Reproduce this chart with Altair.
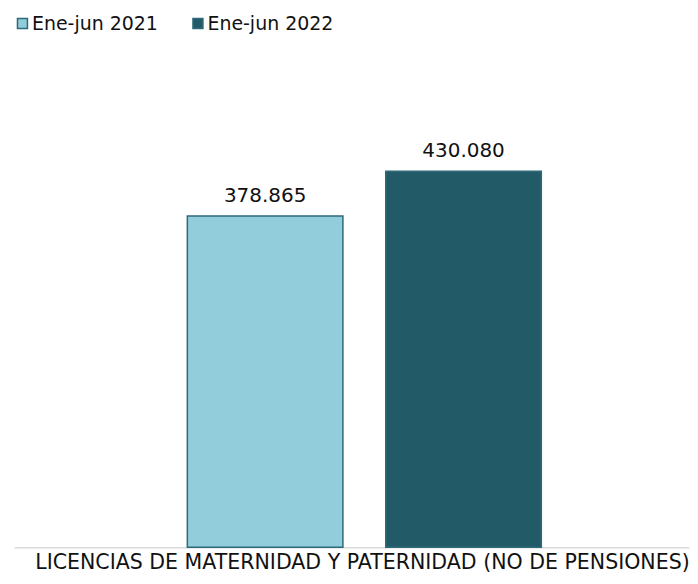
import altair as alt
import pandas as pd

series = ["Ene-jun 2021", "Ene-jun 2022"]
values = [378865, 430080]
category_title = "LICENCIAS DE MATERNIDAD Y PATERNIDAD (NO DE PENSIONES)"
colors = ["#92CDDC", "#225A68"]

df = pd.DataFrame({"series": series, "value": values})

FONT = "DejaVu Sans"

xscale = alt.Scale(domain=series, paddingInner=0.216, paddingOuter=0.809, align=0.54)
yscale = alt.Scale(domain=[0, 608000])

base = alt.Chart(df).encode(
    x=alt.X(
        "series:N",
        scale=xscale,
        sort=series,
        axis=alt.Axis(
            title=category_title,
            labels=False,
            ticks=False,
            domainColor="#D9D9D9",
            domainWidth=1.5,
            titleFont=FONT,
            titleFontSize=20.6,
            titleFontWeight="normal",
            titleColor="#111111",
            titleX=349,
            titleY=21,
            titleAlign="center",
            titleBaseline="alphabetic",
        ),
    ),
    y=alt.Y("value:Q", scale=yscale, axis=None),
)

bars = base.mark_bar(stroke="#2E6A79", strokeWidth=1.5).encode(
    color=alt.Color(
        "series:N",
        scale=alt.Scale(domain=series, range=colors),
        legend=alt.Legend(
            title=None,
            orient="none",
            legendX=-1,
            legendY=-2,
            direction="horizontal",
            symbolType="square",
            symbolSize=100,
            symbolStrokeColor="#2E6A79",
            symbolStrokeWidth=1.5,
            symbolOpacity=1,
            labelFont=FONT,
            labelFontSize=19,
            labelColor="#111111",
            labelOffset=0,
            columnPadding=30,
            padding=0,
        ),
    )
)

labels = base.mark_text(
    dy=-14, baseline="alphabetic", font=FONT, fontSize=20, color="#111111"
).transform_calculate(
    lab="replace(format(datum.value, ','), ',', '.')"
).encode(text="lab:N")

chart = (
    (bars + labels)
    .properties(
        width=677,
        height=533,
        padding={"left": 5, "top": 5, "right": 0, "bottom": 0},
        background="white",
    )
    .configure_view(strokeWidth=0, stroke="transparent")
)

chart.save("out.html", embed_options={"renderer": "svg", "actions": False})
